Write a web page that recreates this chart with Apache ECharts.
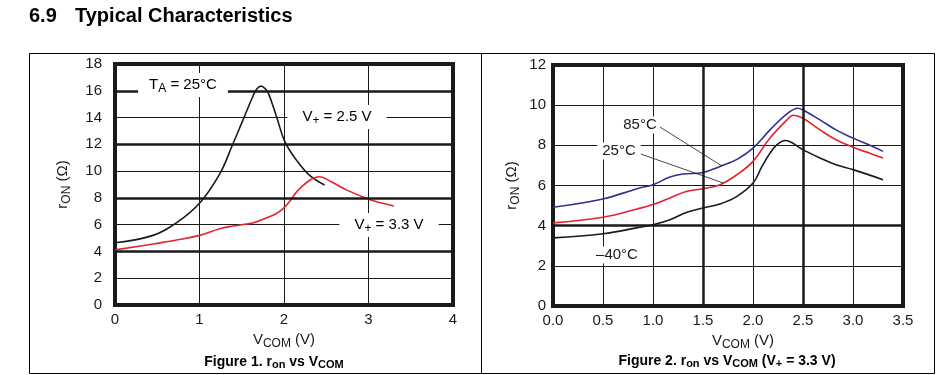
<!DOCTYPE html>
<html>
<head>
<meta charset="utf-8">
<title>Typical Characteristics</title>
</head>
<body style="margin:0;background:#fff">
<div id="container" style="width:945px;height:375px"></div>
<script src="https://cdn.jsdelivr.net/npm/echarts@6/dist/echarts.min.js"></script>
<script>
// Figure 1: r_on vs V_COM, T_A = 25°C
var fig1X_25 = [0, 0.45, 0.73, 1.0, 1.24, 1.38, 1.52, 1.64, 1.68, 1.73, 1.77, 1.81, 1.91, 2.01, 2.15, 2.3, 2.48];
var fig1Y_25 = [4.65, 5.2, 6.15, 7.6, 9.8, 11.8, 13.9, 15.7, 16.15, 16.35, 16.2, 15.9, 14.1, 12.2, 10.8, 9.7, 8.96];
var fig1X_33 = [0, 0.45, 0.73, 1.0, 1.24, 1.4, 1.64, 1.79, 1.9, 1.99, 2.07, 2.15, 2.3, 2.42, 2.56, 2.74, 2.98, 3.13, 3.3];
var fig1Y_33 = [4.12, 4.55, 4.85, 5.2, 5.7, 5.9, 6.15, 6.5, 6.8, 7.2, 7.75, 8.45, 9.3, 9.58, 9.2, 8.6, 7.95, 7.65, 7.4];

// Figure 2: r_on vs V_COM (V+ = 3.3 V) at three temperatures
var fig2X_85 = [0, 0.5, 0.84, 1.0, 1.17, 1.3, 1.5, 1.67, 1.84, 2.0, 2.17, 2.34, 2.45, 2.5, 2.67, 2.83, 3.0, 3.17, 3.3];
var fig2Y_85 = [4.92, 5.33, 5.84, 6.04, 6.42, 6.57, 6.65, 6.95, 7.3, 7.86, 8.77, 9.57, 9.85, 9.76, 9.27, 8.77, 8.36, 8.0, 7.7];
var fig2X_25 = [0, 0.5, 0.84, 1.0, 1.17, 1.34, 1.5, 1.67, 1.84, 2.0, 2.17, 2.34, 2.4, 2.5, 2.67, 2.83, 3.0, 3.17, 3.3];
var fig2Y_25 = [4.14, 4.42, 4.83, 5.05, 5.38, 5.71, 5.84, 6.04, 6.54, 7.2, 8.36, 9.27, 9.5, 9.35, 8.77, 8.28, 7.91, 7.6, 7.37];
var fig2X_m40 = [0, 0.5, 0.84, 1.0, 1.17, 1.34, 1.5, 1.67, 1.84, 2.0, 2.09, 2.17, 2.24, 2.32, 2.5, 2.67, 2.83, 3.0, 3.3];
var fig2Y_m40 = [3.39, 3.6, 3.89, 4.05, 4.3, 4.67, 4.88, 5.08, 5.46, 6.12, 6.95, 7.61, 8.03, 8.24, 7.78, 7.37, 7.03, 6.79, 6.29];

// heavier grid lines
var fig1ThickY = [4, 8, 12, 16];
var fig2ThickY = [4];
var fig2ThickX = [1.5, 2.5];

// leader lines for the temperature labels (data coords)
var lead85 = [[1.07, 8.91], [1.69, 6.97]];
var lead25 = [[0.82, 7.67], [1.70, 6.13]];

function zip(xs, ys) {
	return xs.map(function (x, i) { return [x, ys[i]]; });
}

var FONT = '"Liberation Sans", Arial, sans-serif';
var INK = '#1a1a1a';
var subRich = {
	n: { fontSize: 15, fontFamily: FONT, color: INK },
	s: { fontSize: 12, fontFamily: FONT, color: INK, padding: [8, 0, 0, 0] }
};
var capRich = {
	b: { fontSize: 14, fontWeight: 'bold', fontFamily: FONT, color: '#000' },
	bs: { fontSize: 11, fontWeight: 'bold', fontFamily: FONT, color: '#000', padding: [6, 0, 0, 0] }
};

function thickLines(xs, ys) {
	var d = [];
	xs.forEach(function (v) { d.push({ xAxis: v }); });
	ys.forEach(function (v) { d.push({ yAxis: v }); });
	return {
		silent: true, symbol: 'none', label: { show: false },
		lineStyle: { color: INK, width: 2.5, type: 'solid' },
		data: d
	};
}

function valueAxis(gi, min, max, step, digits, extra) {
	var ax = {
		type: 'value', gridIndex: gi, min: min, max: max, interval: step,
		axisLine: { show: false }, axisTick: { show: false },
		axisLabel: {
			fontSize: 15, fontFamily: FONT, color: INK,
			formatter: function (v) { return v.toFixed(digits); }
		},
		splitLine: { lineStyle: { color: INK, width: 1 } }
	};
	for (var k in extra) ax[k] = extra[k];
	return ax;
}

function curve(xi, ys, color, extra) {
	var s = {
		type: 'line', xAxisIndex: xi, yAxisIndex: xi, data: ys,
		smooth: 0.4, showSymbol: false,
		lineStyle: { color: color, width: 1.6 }
	};
	for (var k in extra) s[k] = extra[k];
	return s;
}

var dom = document.getElementById('container');
var myChart = echarts.init(dom, null, { renderer: 'canvas' });

var option = {
	backgroundColor: '#fff',
	animation: false,
	grid: [
		{ left: 115, right: 492, top: 64, bottom: 70, show: true, borderColor: INK, borderWidth: 4, backgroundColor: 'transparent' },
		{ left: 553, right: 42, top: 65, bottom: 69, show: true, borderColor: INK, borderWidth: 4, backgroundColor: 'transparent' }
	],
	xAxis: [
		valueAxis(0, 0, 4, 1, 0, {
			name: '{n|V}{s|COM}{n| (V)}', nameLocation: 'middle', nameGap: 23,
			nameTextStyle: { rich: subRich },
			axisLabel: { fontSize: 15, fontFamily: FONT, color: INK, margin: 7 }
		}),
		valueAxis(1, 0, 3.5, 0.5, 1, {
			name: '{n|V}{s|COM}{n| (V)}', nameLocation: 'middle', nameGap: 23,
			nameTextStyle: { rich: subRich, padding: [0, 0, 0, 30] },
			axisLabel: { fontSize: 15, fontFamily: FONT, color: INK, margin: 7, formatter: function (v) { return v.toFixed(1); } }
		})
	],
	yAxis: [
		valueAxis(0, 0, 18, 2, 0, {
			name: '{n|r}{s|ON}{n| (Ω)}', nameLocation: 'middle', nameGap: 42, nameRotate: 90,
			nameTextStyle: { rich: subRich },
			axisLabel: { fontSize: 15, fontFamily: FONT, color: INK, margin: 13 }
		}),
		valueAxis(1, 0, 12, 2, 0, {
			name: '{n|r}{s|ON}{n| (Ω)}', nameLocation: 'middle', nameGap: 31, nameRotate: 90,
			nameTextStyle: { rich: subRich },
			axisLabel: { fontSize: 15, fontFamily: FONT, color: INK, margin: 7 }
		})
	],
	series: [
		curve(0, zip(fig1X_25, fig1Y_25), INK, { markLine: thickLines([], fig1ThickY) }),
		curve(0, zip(fig1X_33, fig1Y_33), '#e3242b'),
		curve(1, zip(fig2X_85, fig2Y_85), '#2e3192', { markLine: thickLines(fig2ThickX, fig2ThickY) }),
		curve(1, zip(fig2X_25, fig2Y_25), '#e3242b'),
		curve(1, zip(fig2X_m40, fig2Y_m40), INK, {
			markLine: {
				silent: true, symbol: 'none', label: { show: false },
				lineStyle: { color: INK, width: 0.8, type: 'solid' },
				data: [
					[{ coord: lead85[0] }, { coord: lead85[1] }],
					[{ coord: lead25[0] }, { coord: lead25[1] }]
				]
			}
		})
	],
	graphic: [
		// panel frames
		{ type: 'rect', z: 0, shape: { x: 29.5, y: 53.5, width: 452, height: 320 }, style: { fill: 'none', stroke: '#000', lineWidth: 1 } },
		{ type: 'rect', z: 0, shape: { x: 481.5, y: 53.5, width: 453, height: 320 }, style: { fill: 'none', stroke: '#000', lineWidth: 1 } },
		// section title
		{ type: 'text', z: 100, style: { x: 29, y: 16, text: '6.9', font: 'bold 20px ' + FONT, fill: '#000', verticalAlign: 'middle' } },
		{ type: 'text', z: 100, style: { x: 75, y: 16, text: 'Typical Characteristics', font: 'bold 20px ' + FONT, fill: '#000', verticalAlign: 'middle' } },
		// figure 1 annotations
		{ type: 'text', z: 100, style: {
			x: 183, y: 85, align: 'center', verticalAlign: 'middle', backgroundColor: '#fff', padding: [2, 11, 2, 11],
			text: '{n|T}{s|A}{n| = 25°C}', rich: subRich } },
		{ type: 'text', z: 100, style: {
			x: 337, y: 117, align: 'center', verticalAlign: 'middle', backgroundColor: '#fff', padding: [2, 15, 2, 15],
			text: '{n|V}{s|+}{n| = 2.5 V}', rich: subRich } },
		{ type: 'text', z: 100, style: {
			x: 389, y: 225, align: 'center', verticalAlign: 'middle', backgroundColor: '#fff', padding: [2, 15, 2, 15],
			text: '{n|V}{s|+}{n| = 3.3 V}', rich: subRich } },
		// figure 2 annotations
		{ type: 'text', z: 100, style: {
			x: 640, y: 125, align: 'center', verticalAlign: 'middle', backgroundColor: '#fff', padding: [1, 2, 1, 2],
			text: '85°C', font: '15px ' + FONT, fill: INK } },
		{ type: 'text', z: 100, style: {
			x: 619, y: 151, align: 'center', verticalAlign: 'middle', backgroundColor: '#fff', padding: [1, 5, 1, 5],
			text: '25°C', font: '15px ' + FONT, fill: INK } },
		{ type: 'text', z: 100, style: {
			x: 617, y: 255, align: 'center', verticalAlign: 'middle', backgroundColor: '#fff', padding: [1, 2, 1, 2],
			text: '–40°C', font: '15px ' + FONT, fill: INK } },
		// captions
		{ type: 'text', z: 100, style: {
			x: 274, y: 362, align: 'center', verticalAlign: 'middle',
			text: '{b|Figure 1. r}{bs|on}{b| vs V}{bs|COM}', rich: capRich } },
		{ type: 'text', z: 100, style: {
			x: 727, y: 361, align: 'center', verticalAlign: 'middle',
			text: '{b|Figure 2. r}{bs|on}{b| vs V}{bs|COM}{b| (V}{bs|+}{b| = 3.3 V)}', rich: capRich } }
	]
};

myChart.setOption(option);
window.addEventListener('resize', myChart.resize);
</script>
</body>
</html>
